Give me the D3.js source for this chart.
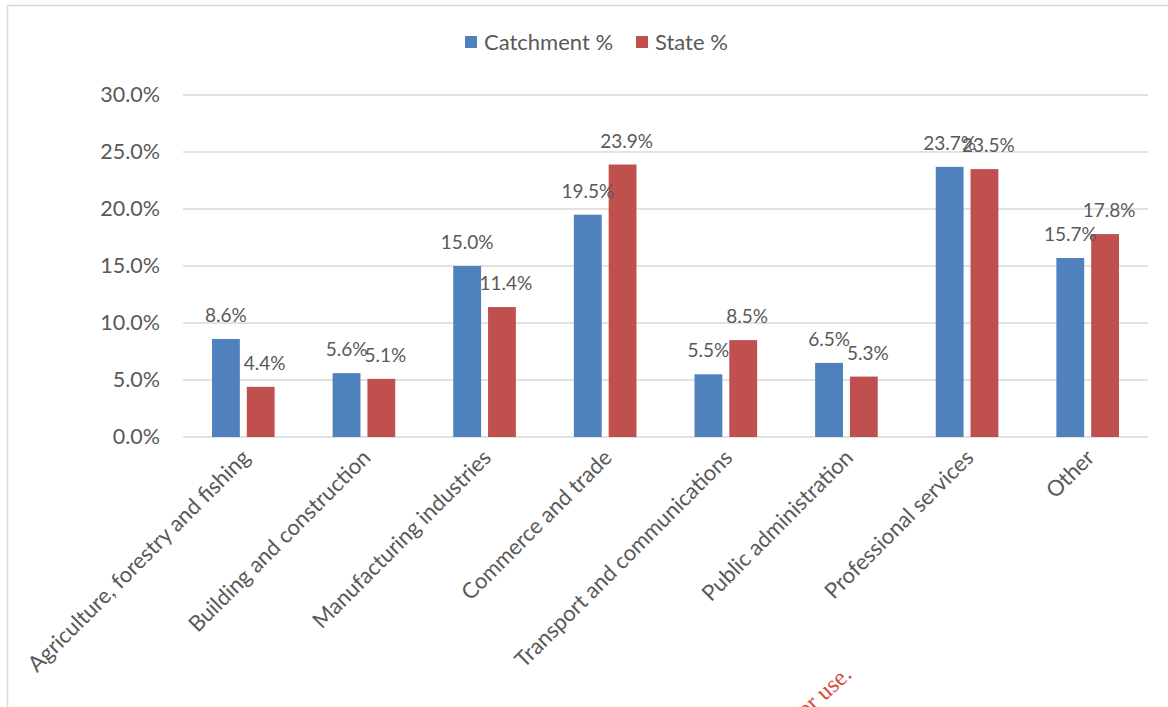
<!DOCTYPE html>
<html>
<head>
<meta charset="utf-8">
<script src="https://cdn.jsdelivr.net/npm/d3@7"></script>
<style>
  body { margin: 0; background: #fff; }
  svg text { font-family: Lato, "Open Sans", sans-serif; fill: #595959; }
</style>
</head>
<body>
<div id="chart"></div>
<script>
// Data
const categories = [
  "Agriculture, forestry and fishing",
  "Building and construction",
  "Manufacturing industries",
  "Commerce and trade",
  "Transport and communications",
  "Public administration",
  "Professional services",
  "Other"
];
const seriesNames = ["Catchment %", "State %"];
const catchment = [8.6, 5.6, 15.0, 19.5, 5.5, 6.5, 23.7, 15.7];
const state = [4.4, 5.1, 11.4, 23.9, 8.5, 5.3, 23.5, 17.8];
const yTicks = [0, 5, 10, 15, 20, 25, 30];
const colors = ["#4f81bd", "#c0504d"];

const W = 1168, H = 707;
const margin = { top: 95, right: 20, bottom: 270, left: 183 };
const width = 1148 - margin.left;
const height = 437 - margin.top;

const svg = d3.select("#chart")
    .append("svg")
    .attr("width", W)
    .attr("height", H);

// outer frame (left and top edges visible)
svg.append("line").attr("x1", 7.5).attr("x2", 7.5).attr("y1", 5).attr("y2", H)
    .attr("stroke", "#d9d9d9").attr("stroke-width", 1.5);
svg.append("line").attr("x1", 7).attr("x2", W).attr("y1", 5.5).attr("y2", 5.5)
    .attr("stroke", "#d9d9d9").attr("stroke-width", 1.5);

const g = svg.append("g").attr("transform", `translate(${margin.left},${margin.top})`);

const x0 = d3.scaleBand().domain(categories).range([0, width]).paddingInner(0).paddingOuter(0);
const x1 = d3.scaleBand().domain(seriesNames).range([29, x0.bandwidth() - 29]).paddingInner(0.2);
const y = d3.scaleLinear().domain([0, 30]).range([height, 0]);

// gridlines
g.append("g")
    .selectAll("line")
    .data(yTicks)
    .join("line")
    .attr("x1", 0).attr("x2", width)
    .attr("y1", d => y(d)).attr("y2", d => y(d))
    .attr("stroke", "#d9d9d9").attr("stroke-width", 1.5);

// y axis labels
const yAxis = g.append("g")
    .call(d3.axisLeft(y).tickValues(yTicks).tickFormat(d => d.toFixed(1) + "%").tickSize(0).tickPadding(23));
yAxis.select(".domain").remove();
yAxis.selectAll("text").style("font-size", "21.5px").attr("fill", "#595959");

const data = categories.map((c, i) => ({ cat: c, vals: [catchment[i], state[i]] }));

const groups = g.selectAll(".grp")
    .data(data)
    .join("g")
    .attr("class", "grp")
    .attr("transform", d => `translate(${x0(d.cat)},0)`);

groups.selectAll("rect")
    .data(d => d.vals.map((v, k) => ({ key: seriesNames[k], v, k })))
    .join("rect")
    .attr("x", d => x1(d.key))
    .attr("y", d => y(d.v))
    .attr("width", x1.bandwidth())
    .attr("height", d => y(0) - y(d.v))
    .attr("fill", d => colors[d.k]);

groups.selectAll("text.lbl")
    .data(d => d.vals.map((v, k) => ({ key: seriesNames[k], v, k })))
    .join("text")
    .attr("class", "lbl")
    .attr("x", d => x1(d.key) + x1.bandwidth() / 2 + (d.k === 1 ? 4 : 0))
    .attr("y", d => y(d.v) - 17)
    .attr("text-anchor", "middle")
    .style("font-size", "19px")
    .attr("fill", "#404040")
    .text(d => d.v.toFixed(1) + "%");

// x axis labels
const xAxis = g.append("g")
    .attr("transform", `translate(0,${height})`)
    .call(d3.axisBottom(x0).tickSize(0).tickPadding(0));
xAxis.select(".domain").remove();
xAxis.selectAll("text")
    .style("font-size", "22px")
    .attr("fill", "#595959")
    .attr("text-anchor", "end")
    .attr("dy", "0")
    .attr("transform", "translate(8,22) rotate(-45)");

// legend
const legend = svg.append("g").attr("transform", "translate(465,36)");
const legX = [0, 171];
seriesNames.forEach((s, i) => {
    legend.append("rect").attr("x", legX[i]).attr("y", 0).attr("width", 12).attr("height", 12).attr("fill", colors[i]);
    legend.append("text").attr("x", legX[i] + 19).attr("y", 14).style("font-size", "22px").text(s);
});

// watermark fragment at bottom edge
svg.append("text")
    .attr("transform", "translate(853,676) rotate(-42)")
    .attr("text-anchor", "end")
    .style("font-family", "'Liberation Serif', 'DejaVu Serif', serif")
    .style("font-size", "24px")
    .style("fill", "#d24b3c")
    .text("for use.");
</script>
</body>
</html>
